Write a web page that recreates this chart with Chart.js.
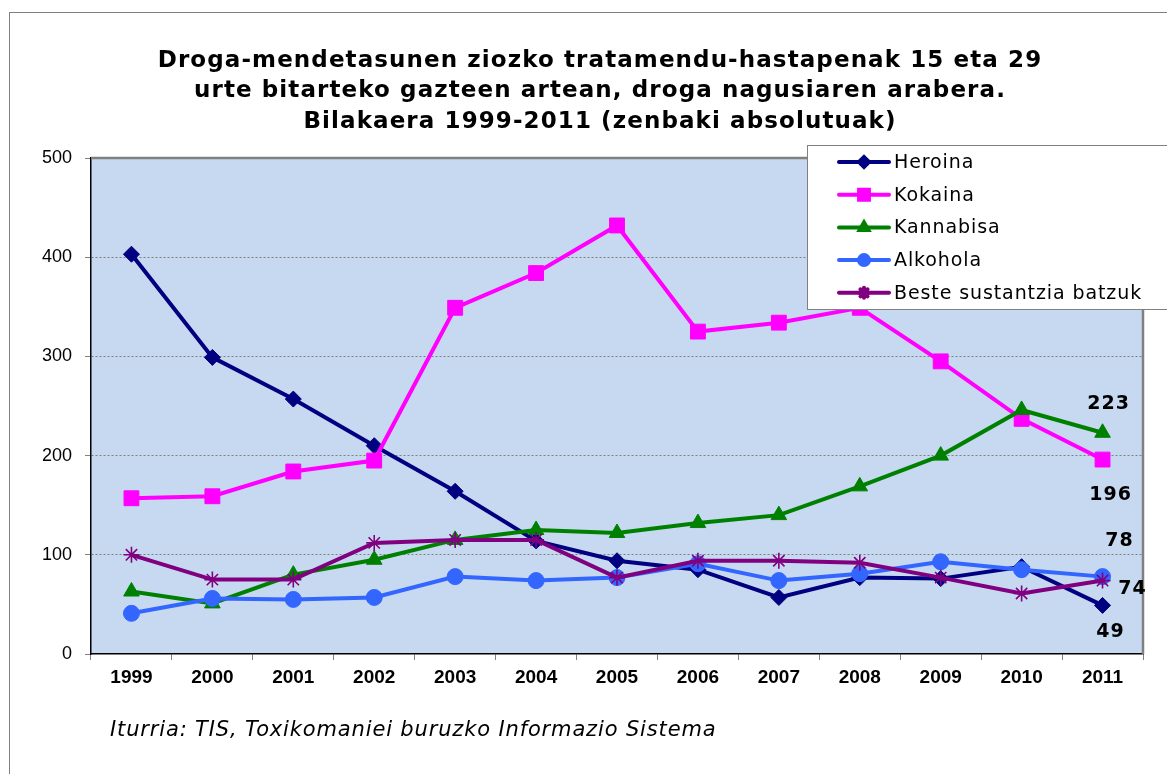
<!DOCTYPE html>
<html>
<head>
<meta charset="utf-8">
<script src="https://cdn.jsdelivr.net/npm/chart.js@4.4.0/dist/chart.umd.min.js"></script>
<style>
  body { margin: 0; background: #fff; }
  canvas { display: block; }
</style>
</head>
<body>
<canvas id="drogak" width="1167" height="774"></canvas>
<script>
const years = ['1999','2000','2001','2002','2003','2004','2005','2006','2007','2008','2009','2010','2011'];
const heroina   = [403, 299, 257, 210, 164, 114, 94, 85, 57, 77, 76, 88, 49];
const kokaina   = [157, 159, 184, 195, 349, 384, 432, 325, 334, 349, 295, 237, 196];
const kannabisa = [63, 51, 80, 95, 115, 125, 122, 132, 140, 169, 200, 246, 223];
const alkohola  = [41, 56, 55, 57, 78, 74, 77, 91, 74, 81, 93, 85, 78];
const beste     = [100, 75, 75, 112, 115, 115, 77, 94, 94, 92, 77, 61, 74];
const seriesNames = ['Heroina', 'Kokaina', 'Kannabisa', 'Alkohola', 'Beste sustantzia batzuk'];
const yTicks = [0, 100, 200, 300, 400, 500];

const titleLines = [
  'Droga-mendetasunen ziozko tratamendu-hastapenak 15 eta 29',
  'urte bitarteko gazteen artean, droga nagusiaren arabera.',
  'Bilakaera 1999-2011 (zenbaki absolutuak)'
];
const sourceText = 'Iturria: TIS, Toxikomaniei buruzko Informazio Sistema';

const colors = ['#000080', '#ff00ff', '#008000', '#3366ff', '#800080'];
const styles = ['rectRot', 'rect', 'triangle', 'circle', 'star'];
const radii = [8, 10.5, 9, 8, 8];
// where the 2011 value label sits, relative to the point
const lastLabelOffset = [[8, 27], [8, 35], [6, -29], [17, -36], [30, 8]];

function makeSet(i, values) {
  return {
    label: seriesNames[i],
    data: values,
    borderColor: colors[i],
    backgroundColor: colors[i],
    borderWidth: 4,
    pointStyle: styles[i],
    pointRadius: radii[i],
    pointHoverRadius: radii[i],
    pointBorderWidth: styles[i] === 'star' ? 1.6 : 1,
    pointBackgroundColor: colors[i],
    pointBorderColor: colors[i],
    tension: 0,
    order: 5 - i
  };
}

function spaced(ctx, px) {
  if ('letterSpacing' in ctx) ctx.letterSpacing = px + 'px';
}

const frame = {
  id: 'frame',
  beforeDraw(chart) {
    const { ctx, chartArea: a } = chart;
    ctx.save();
    ctx.fillStyle = '#fff';
    ctx.fillRect(0, 0, chart.width, chart.height);
    ctx.strokeStyle = '#808080';
    ctx.lineWidth = 1;
    ctx.strokeRect(9.5, 12.5, 1300, 900);
    ctx.fillStyle = '#c6d9f0';
    ctx.fillRect(a.left, a.top, a.right - a.left, a.bottom - a.top);
    ctx.restore();
  },
  beforeDatasetsDraw(chart) {
    const { ctx, chartArea: a } = chart;
    ctx.save();
    ctx.strokeStyle = '#808080';
    ctx.lineWidth = 2.5;
    ctx.beginPath();
    ctx.moveTo(a.left, a.top);
    ctx.lineTo(a.right, a.top);
    ctx.lineTo(a.right, a.bottom);
    ctx.stroke();
    ctx.restore();
  },
  afterDraw(chart) {
    const { ctx } = chart;
    ctx.save();
    // title
    ctx.fillStyle = '#000';
    ctx.textAlign = 'center';
    ctx.textBaseline = 'middle';
    ctx.font = 'bold 23px "DejaVu Sans", Verdana, sans-serif';
    spaced(ctx, 1.1);
    titleLines.forEach((t, k) => ctx.fillText(t, 600, 61 + k * 30.5));

    // source
    ctx.textAlign = 'left';
    ctx.font = 'italic 21px "DejaVu Sans", Verdana, sans-serif';
    spaced(ctx, 0.85);
    ctx.fillText(sourceText, 110, 731);

    // labels for the 2011 values
    ctx.font = 'bold 19px "DejaVu Sans", Verdana, sans-serif';
    spaced(ctx, 1);
    ctx.textAlign = 'center';
    chart.data.datasets.forEach((ds, i) => {
      const meta = chart.getDatasetMeta(i);
      const last = ds.data.length - 1;
      const p = meta.data[last];
      const o = lastLabelOffset[i];
      ctx.fillText(String(ds.data[last]), p.x + o[0], p.y + o[1]);
    });

    // legend box
    spaced(ctx, 0);
    ctx.fillStyle = '#fff';
    ctx.fillRect(807, 145, 400, 164);
    ctx.strokeStyle = '#808080';
    ctx.lineWidth = 1;
    ctx.strokeRect(807.5, 145.5, 400, 164);
    ctx.font = '19px "DejaVu Sans", Verdana, sans-serif';
    ctx.textAlign = 'left';
    chart.data.datasets.forEach((ds, i) => {
      const y = 162 + i * 32.7;
      ctx.strokeStyle = ds.borderColor;
      ctx.lineWidth = 4;
      ctx.lineCap = 'round';
      ctx.beginPath();
      ctx.moveTo(839, y);
      ctx.lineTo(889, y);
      ctx.stroke();
      ctx.fillStyle = ds.borderColor;
      if (Chart.helpers && Chart.helpers.drawPoint) {
        Chart.helpers.drawPoint(ctx, {
          pointStyle: ds.pointStyle,
          radius: ds.pointStyle === 'rect' ? 7 : 5,
          rotation: 0,
          borderWidth: 1.2
        }, 864, y);
      }
      ctx.fillStyle = '#000';
      spaced(ctx, 0.9);
      ctx.fillText(ds.label, 894, y + 1);
      spaced(ctx, 0);
    });
    ctx.restore();
  }
};

new Chart(document.getElementById('drogak'), {
  type: 'line',
  data: {
    labels: years,
    datasets: [
      makeSet(0, heroina),
      makeSet(1, kokaina),
      makeSet(2, kannabisa),
      makeSet(3, alkohola),
      makeSet(4, beste)
    ]
  },
  options: {
    responsive: false,
    animation: false,
    events: [],
    layout: { padding: { left: 0, top: 158, right: 24, bottom: 80 } },
    plugins: {
      legend: { display: false },
      title: { display: false },
      tooltip: { enabled: false }
    },
    scales: {
      x: {
        offset: true,
        grid: {
          offset: true,
          drawOnChartArea: false,
          tickLength: 6,
          tickColor: '#808080'
        },
        border: { color: '#000', width: 1.5 },
        ticks: {
          color: '#000',
          padding: 6,
          maxRotation: 0,
          font: { family: '"Liberation Sans", Arial, sans-serif', size: 19, weight: 'bold' }
        },
        afterFit(scale) { scale.height = 40; }
      },
      y: {
        min: 0,
        max: 500,
        afterBuildTicks(scale) { scale.ticks = yTicks.map(v => ({ value: v })); },
        grid: {
          color: c => (c.tick && (c.tick.value === 0 || c.tick.value === 500)) ? 'rgba(0,0,0,0)' : '#7f7f7f',
          lineWidth: 1,
          tickLength: 6,
          tickColor: '#808080'
        },
        border: { color: '#000', width: 1.5, dash: [2, 2] },
        ticks: {
          color: '#000',
          padding: 13,
          font: { family: '"Liberation Sans", Arial, sans-serif', size: 18 }
        },
        afterFit(scale) { scale.width = 91; }
      }
    }
  },
  plugins: [frame]
});
</script>
</body>
</html>
